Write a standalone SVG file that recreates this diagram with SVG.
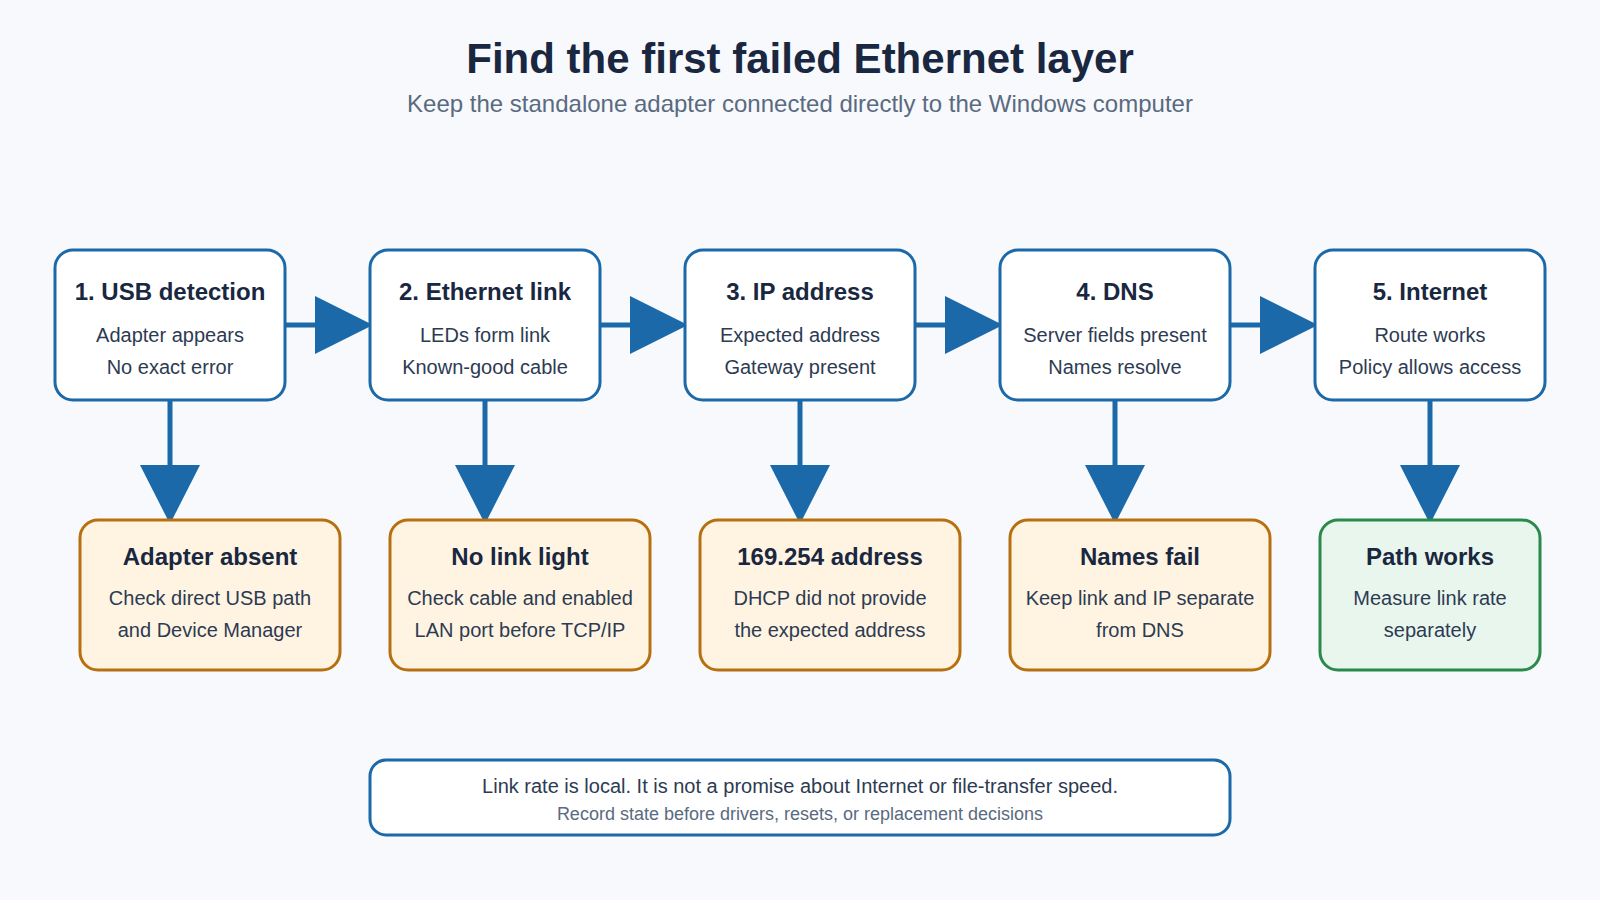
<svg xmlns="http://www.w3.org/2000/svg" width="1600" height="900" viewBox="0 0 1600 900">
<style>
text{font-family:"Liberation Sans",Arial,sans-serif;text-anchor:middle}
.title{font-size:42px;font-weight:bold;fill:#1a2740}
.sub{font-size:24px;fill:#5a6a80}
.step rect{fill:#ffffff;stroke:#1b69a8;stroke-width:3}
.fail rect{fill:#fff4e2;stroke:#b7700f;stroke-width:3}
.ok rect{fill:#e9f6ee;stroke:#2a8a4c;stroke-width:3}
.h{font-size:24px;font-weight:bold;fill:#1a2740}
.b{font-size:20px;fill:#2d3b52}
.note rect{fill:#ffffff;stroke:#1b69a8;stroke-width:3}
.n1{font-size:20px;fill:#2d3b52}
.n2{font-size:18px;fill:#5a6a80}
.conn line{stroke:#1b69a8;stroke-width:5}
.conn polygon{fill:#1b69a8}
</style>
<rect width="1600" height="900" fill="#f7f9fc"/>
<text class="title" x="800" y="73">Find the first failed Ethernet layer</text>
<text class="sub" x="800" y="112">Keep the standalone adapter connected directly to the Windows computer</text>

<g id="connectors" class="conn">
  <line x1="285" y1="325" x2="320" y2="325"/><polygon points="315,296 373,325 315,354"/>
  <line x1="600" y1="325" x2="635" y2="325"/><polygon points="630,296 688,325 630,354"/>
  <line x1="915" y1="325" x2="950" y2="325"/><polygon points="945,296 1003,325 945,354"/>
  <line x1="1230" y1="325" x2="1265" y2="325"/><polygon points="1260,296 1318,325 1260,354"/>
  <line x1="170" y1="400" x2="170" y2="470"/><polygon points="140,465 200,465 170,524"/>
  <line x1="485" y1="400" x2="485" y2="470"/><polygon points="455,465 515,465 485,524"/>
  <line x1="800" y1="400" x2="800" y2="470"/><polygon points="770,465 830,465 800,524"/>
  <line x1="1115" y1="400" x2="1115" y2="470"/><polygon points="1085,465 1145,465 1115,524"/>
  <line x1="1430" y1="400" x2="1430" y2="470"/><polygon points="1400,465 1460,465 1430,524"/>
</g>

<g id="step1" class="step"><rect x="55" y="250" width="230" height="150" rx="18"/>
<text class="h" x="170" y="300">1. USB detection</text><text class="b" x="170" y="342">Adapter appears</text><text class="b" x="170" y="374">No exact error</text></g>
<g id="step2" class="step"><rect x="370" y="250" width="230" height="150" rx="18"/>
<text class="h" x="485" y="300">2. Ethernet link</text><text class="b" x="485" y="342">LEDs form link</text><text class="b" x="485" y="374">Known-good cable</text></g>
<g id="step3" class="step"><rect x="685" y="250" width="230" height="150" rx="18"/>
<text class="h" x="800" y="300">3. IP address</text><text class="b" x="800" y="342">Expected address</text><text class="b" x="800" y="374">Gateway present</text></g>
<g id="step4" class="step"><rect x="1000" y="250" width="230" height="150" rx="18"/>
<text class="h" x="1115" y="300">4. DNS</text><text class="b" x="1115" y="342">Server fields present</text><text class="b" x="1115" y="374">Names resolve</text></g>
<g id="step5" class="step"><rect x="1315" y="250" width="230" height="150" rx="18"/>
<text class="h" x="1430" y="300">5. Internet</text><text class="b" x="1430" y="342">Route works</text><text class="b" x="1430" y="374">Policy allows access</text></g>

<g id="fail1" class="fail"><rect x="80" y="520" width="260" height="150" rx="18"/>
<text class="h" x="210" y="565">Adapter absent</text><text class="b" x="210" y="605">Check direct USB path</text><text class="b" x="210" y="637">and Device Manager</text></g>
<g id="fail2" class="fail"><rect x="390" y="520" width="260" height="150" rx="18"/>
<text class="h" x="520" y="565">No link light</text><text class="b" x="520" y="605">Check cable and enabled</text><text class="b" x="520" y="637">LAN port before TCP/IP</text></g>
<g id="fail3" class="fail"><rect x="700" y="520" width="260" height="150" rx="18"/>
<text class="h" x="830" y="565">169.254 address</text><text class="b" x="830" y="605">DHCP did not provide</text><text class="b" x="830" y="637">the expected address</text></g>
<g id="fail4" class="fail"><rect x="1010" y="520" width="260" height="150" rx="18"/>
<text class="h" x="1140" y="565">Names fail</text><text class="b" x="1140" y="605">Keep link and IP separate</text><text class="b" x="1140" y="637">from DNS</text></g>
<g id="ok5" class="ok"><rect x="1320" y="520" width="220" height="150" rx="18"/>
<text class="h" x="1430" y="565">Path works</text><text class="b" x="1430" y="605">Measure link rate</text><text class="b" x="1430" y="637">separately</text></g>

<g id="note" class="note"><rect x="370" y="760" width="860" height="75" rx="16"/>
<text class="n1" x="800" y="793">Link rate is local. It is not a promise about Internet or file-transfer speed.</text>
<text class="n2" x="800" y="820">Record state before drivers, resets, or replacement decisions</text></g>
</svg>
